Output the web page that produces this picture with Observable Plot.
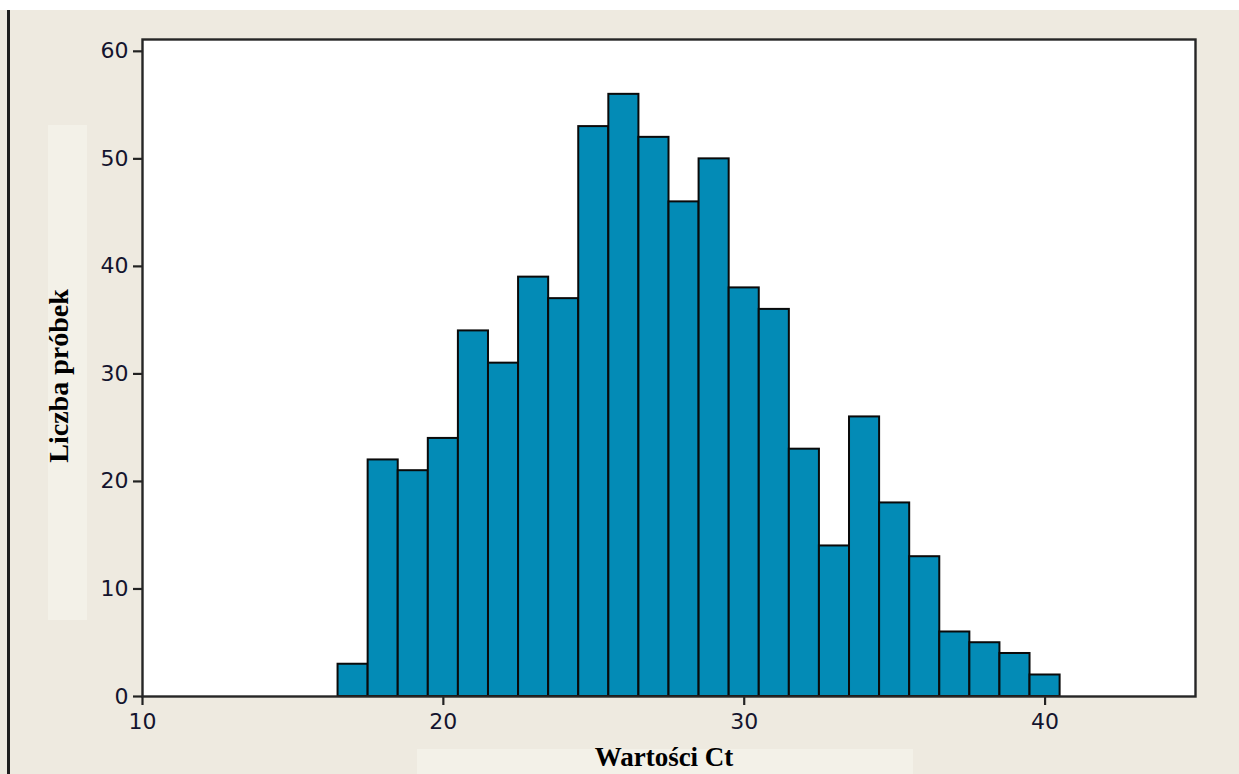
<!DOCTYPE html>
<html>
<head>
<meta charset="utf-8">
<script src="https://cdn.jsdelivr.net/npm/d3@7"></script>
<script src="https://cdn.jsdelivr.net/npm/@observablehq/plot@0.6"></script>
<style>
  html, body { margin: 0; padding: 0; background: #ffffff; width: 1239px; height: 774px; overflow: hidden; }
  #bg { position: absolute; left: 0; top: 10px; width: 1239px; height: 764px; background: #EEEAE0; }
  #vline { position: absolute; left: 7px; top: 10px; width: 3px; height: 764px; background: #1e1e1e; }
  #ypanel { position: absolute; left: 48px; top: 125px; width: 39px; height: 495px; background: #F3F1E8; }
  #xpanel { position: absolute; left: 417px; top: 749px; width: 496px; height: 25px; background: #F3F1E8; }
  #chart { position: absolute; left: 0; top: 0; }
  #chart svg { background: transparent !important; }
  .ylabel { position: absolute; left: 59px; top: 376px; transform: translate(-50%, -50%) rotate(-90deg);
            font: bold 28px "Liberation Serif", "Times New Roman", serif; color: #000; white-space: nowrap; }
  .xlabel { position: absolute; left: 664px; top: 757px; transform: translate(-50%, -50%);
            font: bold 27px "Liberation Serif", "Times New Roman", serif; color: #000; white-space: nowrap; }
</style>
</head>
<body>
<div id="bg"></div>
<div id="vline"></div>
<div id="ypanel"></div>
<div id="xpanel"></div>
<div id="chart"></div>
<div class="ylabel">Liczba próbek</div>
<div class="xlabel">Wartości Ct</div>
<script>
// Histogram bins (centres of Ct bins, width 1) and counts
const binCenters = [17, 18, 19, 20, 21, 22, 23, 24, 25, 26, 27, 28, 29, 30, 31, 32, 33, 34, 35, 36, 37, 38, 39, 40];
const counts     = [3, 22, 21, 24, 34, 31, 39, 37, 53, 56, 52, 46, 50, 38, 36, 23, 14, 26, 18, 13, 6, 5, 4, 2];
const binWidth = 1;
const xTicks = [10, 20, 30, 40];
const yTicks = [0, 10, 20, 30, 40, 50, 60];

const data = binCenters.map((c, i) => ({x1: c - binWidth / 2, x2: c + binWidth / 2, count: counts[i]}));

const tickFont = {fontSize: 22, fontFamily: "DejaVu Sans, sans-serif"};

const chart = Plot.plot({
  width: 1239,
  height: 774,
  marginLeft: 142,
  marginRight: 44,
  marginTop: 39,
  marginBottom: 78,
  style: {background: "transparent", fontFamily: "DejaVu Sans, sans-serif", fontSize: "22px", color: "#14142e"},
  x: {domain: [10, 45]},
  y: {domain: [0, 61.1]},
  marks: [
    Plot.frame({fill: "white", stroke: "none"}),
    Plot.rectY(data, {x1: "x1", x2: "x2", y: "count", fill: "#038BB6", stroke: "#0a0a0a", strokeWidth: 2}),
    Plot.axisY({ticks: yTicks, tickSize: 9, tickPadding: 5, label: null, stroke: "#222", strokeWidth: 2.2, fill: "#14142e", stroke: "#222", ...tickFont}),
    Plot.axisX({ticks: xTicks, tickSize: 9, tickPadding: 8, label: null, stroke: "#222", strokeWidth: 2.2, fill: "#14142e", ...tickFont}),
    Plot.frame({stroke: "#262626", strokeWidth: 2.4})
  ]
});
document.getElementById("chart").appendChild(chart);
</script>
</body>
</html>
